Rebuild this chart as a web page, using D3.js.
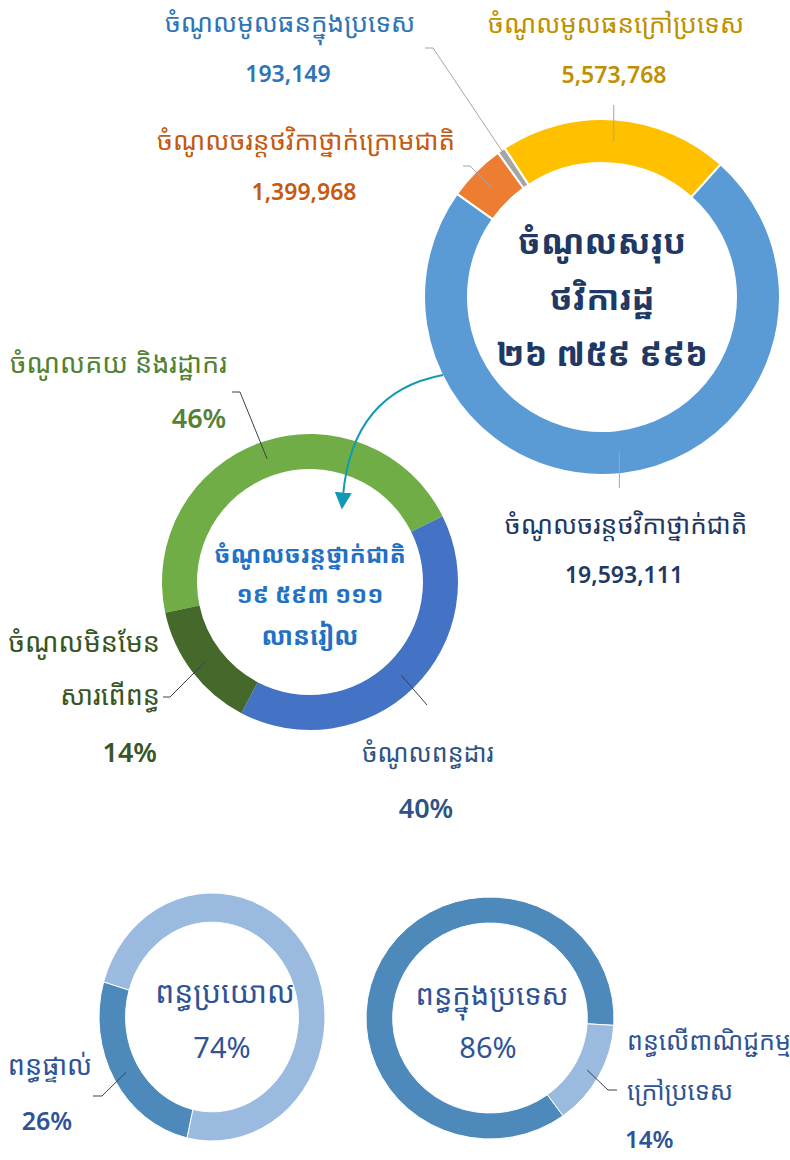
<!DOCTYPE html>
<html>
<head>
<meta charset="utf-8">
<script src="https://cdn.jsdelivr.net/npm/d3@7"></script>
<style>
  html, body { margin: 0; padding: 0; background: #ffffff; }
  svg { display: block; }
</style>
</head>
<body>
<div id="chart"></div>
<script>
// ---------------- DATA ----------------
const totalCategories = ["ចំណូលចរន្តថវិកាថ្នាក់ក្រោមជាតិ", "ចំណូលមូលធនក្នុងប្រទេស", "ចំណូលមូលធនក្រៅប្រទេស", "ចំណូលចរន្តថវិកាថ្នាក់ជាតិ"];
const totalValues = [1399968, 193149, 5573768, 19593111];
const totalTitle = ["ចំណូលសរុប", "ថវិការដ្ឋ"];

const nationalCategories = ["ចំណូលគយ និងរដ្ឋាករ", "ចំណូលពន្ធដារ", "ចំណូលមិនមែនសារពើពន្ធ"];
const nationalValues = [46, 40, 14];
const nationalTitle = ["ចំណូលចរន្តថ្នាក់ជាតិ", "លានរៀល"];

const taxTypeCategories = ["ពន្ធប្រយោល", "ពន្ធផ្ទាល់"];
const taxTypeValues = [74, 26];

const indirectCategories = ["ពន្ធក្នុងប្រទេស", "ពន្ធលើពាណិជ្ជកម្មក្រៅប្រទេស"];
const indirectValues = [86, 14];

// ---------------- SETUP ----------------
const W = 790, H = 1160;
const KH = "'Noto Sans Khmer','Noto Serif Khmer','Khmer OS System','Khmer OS','Hanuman','Battambang','Noto Sans',sans-serif";
const NUM = "'Noto Sans','Open Sans',sans-serif";
const deg = Math.PI / 180;

const svg = d3.select("#chart").append("svg")
  .attr("width", W).attr("height", H)
  .attr("viewBox", `0 0 ${W} ${H}`);

const khDigits = "០១២៣៤៥៦៧៨៩";
function toKhmerGrouped(v) {
  return d3.format(",")(v).replace(/,/g, " ").replace(/[0-9]/g, d => khDigits[+d]);
}

function addText(x, y, str, opt) {
  return svg.append("text")
    .attr("x", x).attr("y", y)
    .attr("text-anchor", opt.anchor || "middle")
    .attr("font-family", opt.family || KH)
    .attr("font-size", opt.size)
    .attr("font-weight", opt.weight || "normal")
    .attr("fill", opt.color)
    .text(str);
}

function leader(points, color, width) {
  svg.append("path")
    .attr("d", d3.line()(points))
    .attr("fill", "none")
    .attr("stroke", color)
    .attr("stroke-width", width || 1);
}

function cen(arcGen, d, c) {
  const p = arcGen.centroid(d);
  return [p[0] + c.cx, p[1] + c.cy];
}

// ---------------- TOP DONUT: total revenue ----------------
const topC = { cx: 602, cy: 297, r0: 134, r1: 178 };
const topColors = ["#ED7D31", "#A5A5A5", "#FFC000", "#5B9BD5"];
const topStart = -54.6 * deg;
const topPie = d3.pie().sort(null).startAngle(topStart).endAngle(topStart + 2 * Math.PI);
const topArcs = topPie(totalValues);
const topArc = d3.arc().innerRadius(topC.r0).outerRadius(topC.r1);
const gTop = svg.append("g").attr("transform", `translate(${topC.cx},${topC.cy})`);
gTop.selectAll("path").data(topArcs).join("path")
  .attr("d", topArc)
  .attr("fill", (d, i) => topColors[i])
  .attr("stroke", "#ffffff")
  .attr("stroke-width", 2);

const topLeaderEnds = [
  [[470, 166], [463, 166]],
  [[433, 48], [425, 48]],
  [[0, 105]],
  [[0, 488]]
];
topArcs.forEach((d, i) => {
  const s = cen(topArc, d, topC);
  let pts = [s];
  if (i === 2 || i === 3) pts.push([s[0], topLeaderEnds[i][0][1]]);
  else pts = pts.concat(topLeaderEnds[i]);
  leader(pts, "#A6A6A6", 1);
});

const topLabelCfg = [
  { x: 306, y1: 150, y2: 200, color: "#C55A11" },
  { x: 290, y1: 32, y2: 82, color: "#2E75B6" },
  { x: 616, y1: 33, y2: 83, color: "#BF9000" },
  { x: 626, y1: 534, y2: 583, color: "#1F3864" }
];
totalCategories.forEach((c, i) => {
  const cfg = topLabelCfg[i];
  addText(cfg.x, cfg.y1, c, { size: 26, color: cfg.color });
  addText(cfg.x - 2, cfg.y2, d3.format(",")(totalValues[i]), { size: 23, color: cfg.color, family: NUM, weight: 600 });
});

addText(topC.cx, 254, totalTitle[0], { size: 34, weight: "bold", color: "#203864" });
addText(topC.cx, 310, totalTitle[1], { size: 34, weight: "bold", color: "#203864" });
addText(topC.cx, 366, toKhmerGrouped(d3.sum(totalValues)), { size: 34, weight: "bold", color: "#203864" });

// ---------------- MIDDLE DONUT: national current revenue ----------------
const midC = { cx: 310, cy: 582, r0: 113, r1: 148 };
const midColors = ["#70AD47", "#4472C4", "#44692B"];
const midStart = -102 * deg;
const midPie = d3.pie().sort(null).startAngle(midStart).endAngle(midStart + 2 * Math.PI);
const midArcs = midPie(nationalValues);
const midArc = d3.arc().innerRadius(midC.r0).outerRadius(midC.r1);
const gMid = svg.append("g").attr("transform", `translate(${midC.cx},${midC.cy})`);
gMid.selectAll("path").data(midArcs).join("path")
  .attr("d", midArc)
  .attr("fill", (d, i) => midColors[i]);

const midLeaderEnds = [
  [[240, 392], [232, 392]],
  [[427, 705]],
  [[170, 697], [163, 697]]
];
midArcs.forEach((d, i) => {
  leader([cen(midArc, d, midC)].concat(midLeaderEnds[i]), "#404040", 1);
});

addText(10, 373, nationalCategories[0], { anchor: "start", size: 27, color: "#548235" });
addText(199, 428, nationalValues[0] + "%", { size: 27, color: "#548235", family: NUM, weight: 600 });

addText(428, 762, nationalCategories[1], { size: 25, color: "#2F5383" });
addText(426, 818, nationalValues[1] + "%", { size: 27, color: "#2F5383", family: NUM, weight: 600 });

const nonTax = nationalCategories[2];
addText(160, 652, nonTax.slice(0, 11), { anchor: "end", size: 27, color: "#375623" });
addText(160, 705, nonTax.slice(11), { anchor: "end", size: 27, color: "#375623" });
addText(157, 762, nationalValues[2] + "%", { anchor: "end", size: 27, color: "#375623", family: NUM, weight: 600 });

addText(midC.cx, 563, nationalTitle[0], { size: 24, weight: "bold", color: "#2271C3" });
addText(midC.cx, 603, toKhmerGrouped(totalValues[3]), { size: 24, weight: "bold", color: "#2271C3" });
addText(midC.cx, 645, nationalTitle[1], { size: 25, weight: "bold", color: "#2271C3" });

// arrow
const defs = svg.append("defs");
defs.append("marker")
  .attr("id", "arrowhead")
  .attr("viewBox", "0 0 10 10")
  .attr("refX", 2).attr("refY", 5)
  .attr("markerWidth", 8).attr("markerHeight", 8)
  .attr("markerUnits", "userSpaceOnUse")
  .attr("orient", "auto")
  .append("path").attr("d", "M0,0 L10,5 L0,10 Z").attr("fill", "#1399B3");
defs.select("marker").attr("markerWidth", 17).attr("markerHeight", 17);
svg.append("path")
  .attr("d", "M443,375 Q352,392 343,496")
  .attr("fill", "none")
  .attr("stroke", "#1399B3")
  .attr("stroke-width", 2)
  .attr("marker-end", "url(#arrowhead)");

// ---------------- BOTTOM DONUTS ----------------
function ellipseDonut(cfg, values, colors, startDeg) {
  const pie = d3.pie().sort(null).startAngle(startDeg * deg).endAngle(startDeg * deg + 2 * Math.PI);
  const arcs = pie(values);
  const arc = d3.arc().innerRadius(cfg.ry * cfg.ratio).outerRadius(cfg.ry);
  const g = svg.append("g").attr("transform", `translate(${cfg.cx},${cfg.cy}) scale(${cfg.rx / cfg.ry},1)`);
  g.selectAll("path").data(arcs).join("path")
    .attr("d", arc)
    .attr("fill", (d, i) => colors[i])
    .attr("stroke", "#ffffff")
    .attr("stroke-width", 1)
    .attr("vector-effect", "non-scaling-stroke");
  return arcs.map(d => {
    const p = arc.centroid(d);
    return [cfg.cx + p[0] * cfg.rx / cfg.ry, cfg.cy + p[1]];
  });
}

const darkBlue = "#4E89BC", lightBlue = "#9BBADF", bottomText = "#2F5496";

const leftC = { cx: 212, cy: 1017, rx: 113, ry: 124, ratio: 0.765 };
const leftCent = ellipseDonut(leftC, taxTypeValues, [lightBlue, darkBlue], -73.6);
leader([leftCent[1], [102, 1096], [93, 1096]], "#404040", 1);
addText(225, 1003, taxTypeCategories[0], { size: 30, color: bottomText });
addText(222, 1058, taxTypeValues[0] + "%", { size: 29, color: bottomText, family: NUM });
addText(50, 1075, taxTypeCategories[1], { size: 27, color: bottomText });
addText(47, 1130, taxTypeValues[1] + "%", { size: 25, color: bottomText, family: NUM, weight: 600 });

const rightC = { cx: 490, cy: 1018, rx: 124, ry: 121, ratio: 0.785 };
const rightCent = ellipseDonut(rightC, indirectValues, [darkBlue, lightBlue], 143.9);
leader([rightCent[1], [608, 1090], [617, 1090]], "#404040", 1);
addText(492, 1005, indirectCategories[0], { size: 29, color: bottomText });
addText(488, 1058, indirectValues[0] + "%", { size: 29, color: bottomText, family: NUM });
const foreign = indirectCategories[1];
addText(627, 1050, foreign.slice(0, 17), { anchor: "start", size: 25, color: bottomText });
addText(627, 1100, foreign.slice(17), { anchor: "start", size: 25, color: bottomText });
addText(625, 1148, indirectValues[1] + "%", { anchor: "start", size: 24, color: bottomText, family: NUM, weight: 600 });
</script>
</body>
</html>
